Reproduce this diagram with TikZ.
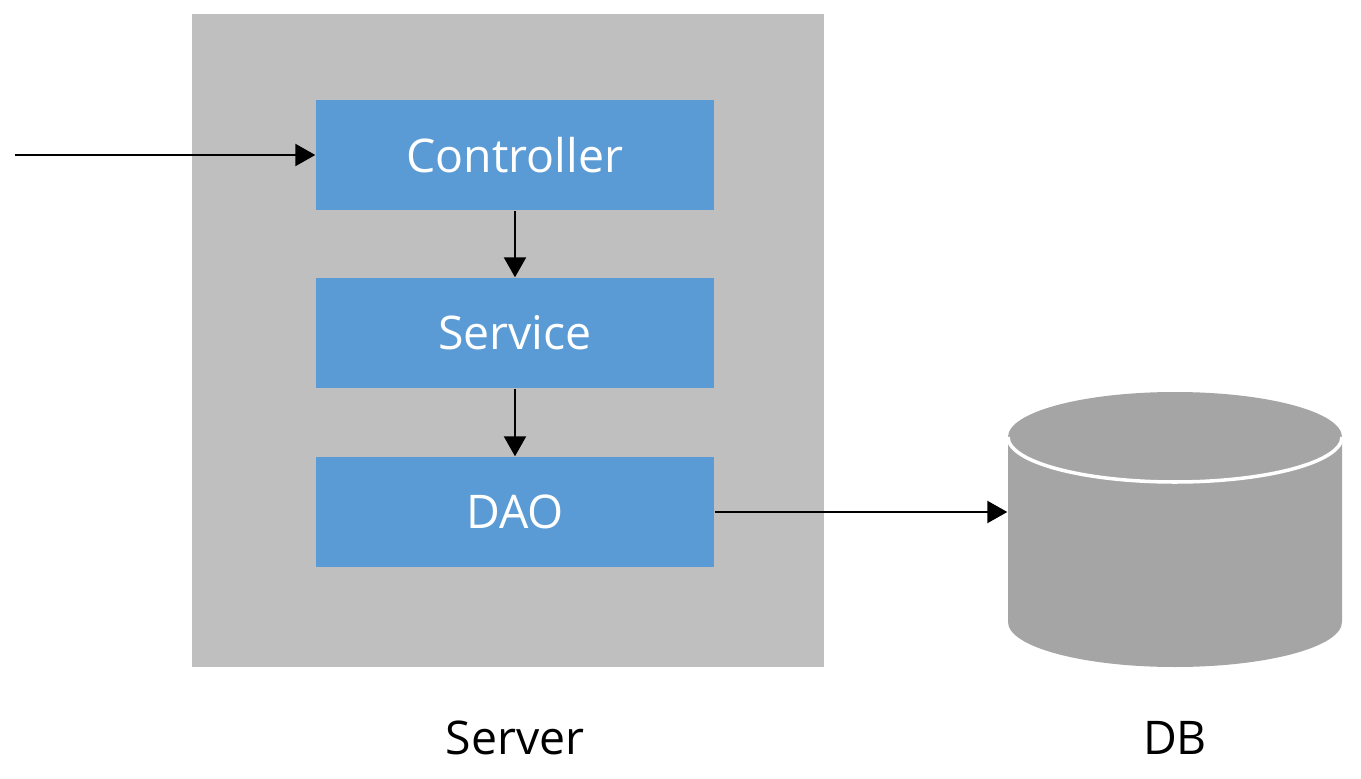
\documentclass[tikz,border=0pt]{standalone}
\usepackage{fontspec}
\setmainfont{Open Sans}
\usetikzlibrary{arrows.meta, positioning, calc}
\definecolor{servergray}{HTML}{BFBFBF}
\definecolor{layerblue}{HTML}{5B9BD5}
\definecolor{dbgray}{HTML}{A5A5A5}

\begin{document}
\begin{tikzpicture}
  [
    Layer/.style={rectangle, fill=layerblue, text=white, inner sep=0pt, minimum width=3.98cm, minimum height=1.1cm, font=\fontsize{13.2}{16}\selectfont},
    Label/.style={font=\fontsize{13.2}{16}\selectfont},
    Link/.style={-{Triangle[length=2mm, width=2.2mm]}, draw, line width=0.65pt}
  ]
  \useasboundingbox (0, 0) rectangle (13.61, -7.79);

  % Server box
  \node[fill=servergray, inner sep=0pt, minimum width=6.32cm, minimum height=6.53cm] (server) at(5.08, -3.405) {};

  % Nodes
  \node[Layer] (ctrl) at(5.15, -1.55) {Controller};
  \node[Layer] (svc) at(5.15, -3.33) {Service};
  \node[Layer] (dao) at(5.15, -5.12) {DAO};
  \coordinate (in) at(0.15, -1.55);

  % DB cylinder
  \node[inner sep=0pt, minimum width=3.34cm, minimum height=2.75cm] (db) at(11.75, -5.295) {};
  \fill[dbgray] (10.08, -4.37) -- (10.08, -6.22)
    arc[start angle=180, end angle=360, x radius=1.67, y radius=0.45]
    -- (13.42, -4.37)
    arc[start angle=0, end angle=180, x radius=1.67, y radius=0.45] -- cycle;
  \draw[white, line width=1pt] (10.08, -4.37)
    arc[start angle=180, end angle=360, x radius=1.67, y radius=0.45];

  % Labels
  \node[Label] (serverlabel) at(5.15, -7.38) {Server};
  \node[Label] (dblabel) at(11.75, -7.38) {DB};

  % Lines
  \path [Link] (in) -- (ctrl.west);
  \path [Link] (ctrl) -- (svc);
  \path [Link] (svc) -- (dao);
  \path [Link] (dao.east) -- (dao.east -| db.west);

\end{tikzpicture}
\end{document}
